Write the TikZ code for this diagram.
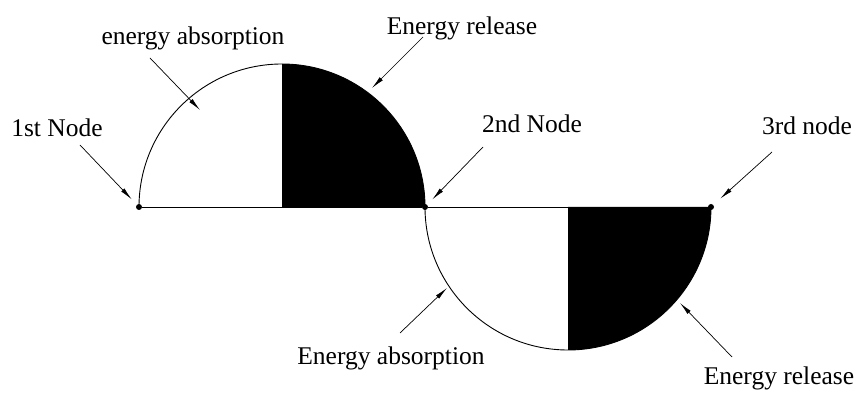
\documentclass[tikz,border=0pt]{standalone}
\usepackage{fontspec}
\setmainfont{Liberation Serif}
\usepackage{tikz}
\usetikzlibrary{arrows.meta,calc,positioning}
\newcommand{\lblsize}{\fontsize{25.5pt}{30pt}\selectfont}
\tikzset{
  ptr/.style={-{Latex[length=13pt,width=4.5pt]}, line width=0.7pt},
  dotnode/.style={circle, fill=black, inner sep=0pt, minimum size=6pt},
  lbl/.style={anchor=base, inner sep=0pt, font=\lblsize}
}

\begin{document}
\begin{tikzpicture}[x=1pt,y=1pt,line width=0.9pt]
  \useasboundingbox (0,0) rectangle (857,398);
  % filled quarters
  \fill (282,191) -- (282,334) arc[start angle=90,end angle=0,radius=143] -- cycle;
  \fill (568,191) -- (711,191) arc[start angle=0,end angle=-90,radius=143] -- cycle;
  % outline
  \draw (139,191) arc[start angle=180,end angle=0,radius=143];
  \draw (425,191) arc[start angle=180,end angle=360,radius=143];
  \node[dotnode] (n1) at (139,191) {};
  \node[dotnode] (n2) at (425,191) {};
  \node[dotnode] (n3) at (711,191) {};
  \draw (n1) -- (n2) -- (n3);
  % labels
  \node[lbl] (l1) at (57,261) {1st Node};
  \node[lbl] (l2) at (532,265) {2nd Node};
  \node[lbl] (l3) at (807,263) {3rd node};
  \node[lbl] (ea1) at (193,353) {energy absorption};
  \node[lbl] (er1) at (462,363) {Energy release};
  \node[lbl] (ea2) at (391,33) {Energy absorption};
  \node[lbl] (er2) at (779,13) {Energy release};
  % pointers
  \coordinate (s1) at (80,253);
  \coordinate (s2) at (483,251);
  \coordinate (s3) at (772,246);
  \coordinate (s4) at (150,340);
  \coordinate (t4) at (200,288);
  \coordinate (s5) at (423,361);
  \coordinate (t5) at (372,310);
  \coordinate (s6) at (400,65);
  \coordinate (t6) at (447,110);
  \coordinate (s7) at (732,41);
  \coordinate (t7) at (680,95);
  \draw[ptr, shorten >=7pt] (s1) -- (n1);
  \draw[ptr, shorten >=7pt] (s2) -- (n2);
  \draw[ptr, shorten >=9pt] (s3) -- (n3);
  \draw[ptr] (s4) -- (t4);
  \draw[ptr] (s5) -- (t5);
  \draw[ptr] (s6) -- (t6);
  \draw[ptr] (s7) -- (t7);
\end{tikzpicture}
\end{document}
